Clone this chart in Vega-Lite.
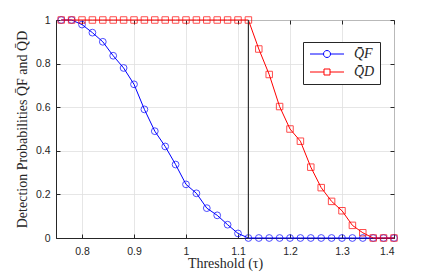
{
  "$schema": "https://vega.github.io/schema/vega-lite/v6.json",
  "width": 338,
  "height": 218,
  "autosize": "none",
  "padding": {"left": 56, "top": 20, "right": 42, "bottom": 35},
  "background": "white",
  "resolve": {"axis": {"x": "independent", "y": "independent"}},
  "config": {
    "view": {"stroke": "#262626", "strokeWidth": 1},
    "axis": {
      "labelFont": "Liberation Sans",
      "labelFontSize": 10.5,
      "labelColor": "#262626",
      "titleFont": "Liberation Serif",
      "titleFontWeight": "normal",
      "titleFontSize": 14,
      "titleColor": "#262626",
      "domainColor": "#262626",
      "tickColor": "#262626",
      "gridColor": "#dfdfdf",
      "gridWidth": 0.8
    }
  },
  "datasets": {
    "curves": [
      {"x": 0.76, "s": "F", "v": 1}, {"x": 0.78, "s": "F", "v": 1}, {"x": 0.80, "s": "F", "v": 0.979},
      {"x": 0.82, "s": "F", "v": 0.942}, {"x": 0.84, "s": "F", "v": 0.90}, {"x": 0.86, "s": "F", "v": 0.836},
      {"x": 0.88, "s": "F", "v": 0.78}, {"x": 0.90, "s": "F", "v": 0.705}, {"x": 0.92, "s": "F", "v": 0.59},
      {"x": 0.94, "s": "F", "v": 0.49}, {"x": 0.96, "s": "F", "v": 0.42}, {"x": 0.98, "s": "F", "v": 0.337},
      {"x": 1.00, "s": "F", "v": 0.246}, {"x": 1.02, "s": "F", "v": 0.205}, {"x": 1.04, "s": "F", "v": 0.137},
      {"x": 1.06, "s": "F", "v": 0.104}, {"x": 1.08, "s": "F", "v": 0.061}, {"x": 1.10, "s": "F", "v": 0.021},
      {"x": 1.12, "s": "F", "v": 0}, {"x": 1.14, "s": "F", "v": 0}, {"x": 1.16, "s": "F", "v": 0},
      {"x": 1.18, "s": "F", "v": 0}, {"x": 1.20, "s": "F", "v": 0}, {"x": 1.22, "s": "F", "v": 0},
      {"x": 1.24, "s": "F", "v": 0}, {"x": 1.26, "s": "F", "v": 0}, {"x": 1.28, "s": "F", "v": 0},
      {"x": 1.30, "s": "F", "v": 0}, {"x": 1.32, "s": "F", "v": 0}, {"x": 1.34, "s": "F", "v": 0},
      {"x": 1.36, "s": "F", "v": 0}, {"x": 1.38, "s": "F", "v": 0}, {"x": 1.40, "s": "F", "v": 0},
      {"x": 0.76, "s": "D", "v": 1}, {"x": 0.78, "s": "D", "v": 1}, {"x": 0.80, "s": "D", "v": 1},
      {"x": 0.82, "s": "D", "v": 1}, {"x": 0.84, "s": "D", "v": 1}, {"x": 0.86, "s": "D", "v": 1},
      {"x": 0.88, "s": "D", "v": 1}, {"x": 0.90, "s": "D", "v": 1}, {"x": 0.92, "s": "D", "v": 1},
      {"x": 0.94, "s": "D", "v": 1}, {"x": 0.96, "s": "D", "v": 1}, {"x": 0.98, "s": "D", "v": 1},
      {"x": 1.00, "s": "D", "v": 1}, {"x": 1.02, "s": "D", "v": 1}, {"x": 1.04, "s": "D", "v": 1},
      {"x": 1.06, "s": "D", "v": 1}, {"x": 1.08, "s": "D", "v": 1}, {"x": 1.10, "s": "D", "v": 1},
      {"x": 1.12, "s": "D", "v": 1}, {"x": 1.14, "s": "D", "v": 0.867}, {"x": 1.16, "s": "D", "v": 0.75},
      {"x": 1.18, "s": "D", "v": 0.603}, {"x": 1.20, "s": "D", "v": 0.50}, {"x": 1.22, "s": "D", "v": 0.444},
      {"x": 1.24, "s": "D", "v": 0.325}, {"x": 1.26, "s": "D", "v": 0.231}, {"x": 1.28, "s": "D", "v": 0.168},
      {"x": 1.30, "s": "D", "v": 0.125}, {"x": 1.32, "s": "D", "v": 0.058}, {"x": 1.34, "s": "D", "v": 0.024},
      {"x": 1.36, "s": "D", "v": 0}, {"x": 1.38, "s": "D", "v": 0}, {"x": 1.40, "s": "D", "v": 0}
    ],
    "thresh": [{"x": 1.12}]
  },
  "layer": [
    {
      "data": {"name": "curves"},
      "transform": [{"filter": "datum.s == 'F'"}],
      "mark": {"type": "line", "strokeWidth": 1, "color": "#0000ff"},
      "encoding": {
        "x": {"field": "x", "type": "quantitative", "scale": {"domain": [0.75, 1.4], "nice": false, "zero": false},
          "axis": {"title": "Threshold (τ)", "values": [0.8, 0.9, 1.0, 1.1, 1.2, 1.3, 1.4], "format": "~g", "grid": true, "tickSize": -4, "labelPadding": 12, "titlePadding": 0}},
        "y": {"field": "v", "type": "quantitative", "scale": {"domain": [0, 1], "nice": false},
          "axis": {"title": "Detection Probabilities Q̄F and Q̄D", "values": [0, 0.2, 0.4, 0.6, 0.8, 1], "format": "~g", "grid": true, "tickSize": -4, "labelPadding": 10, "titlePadding": 6}},
        "order": {"field": "x"}
      }
    },
    {
      "data": {"name": "curves"},
      "transform": [{"filter": "datum.s == 'F'"}],
      "mark": {"type": "point", "shape": "circle", "filled": false, "strokeWidth": 1, "size": 46, "color": "#0000ff"},
      "encoding": {
        "x": {"field": "x", "type": "quantitative",
          "axis": {"orient": "top", "title": null, "labels": false, "grid": false, "domain": false, "values": [0.8, 0.9, 1.0, 1.1, 1.2, 1.3, 1.4], "tickSize": -4}},
        "y": {"field": "v", "type": "quantitative",
          "axis": {"orient": "right", "title": null, "labels": false, "grid": false, "domain": false, "values": [0, 0.2, 0.4, 0.6, 0.8, 1], "tickSize": -4}}
      }
    },
    {
      "data": {"name": "curves"},
      "transform": [{"filter": "datum.s == 'D'"}],
      "mark": {"type": "line", "strokeWidth": 1, "color": "#ff0000"},
      "encoding": {
        "x": {"field": "x", "type": "quantitative", "axis": null},
        "y": {"field": "v", "type": "quantitative", "axis": null},
        "order": {"field": "x"}
      }
    },
    {
      "data": {"name": "curves"},
      "transform": [{"filter": "datum.s == 'D'"}],
      "mark": {"type": "point", "shape": "square", "filled": false, "strokeWidth": 1, "size": 42, "color": "#ff0000"},
      "encoding": {
        "x": {"field": "x", "type": "quantitative", "axis": null},
        "y": {"field": "v", "type": "quantitative", "axis": null}
      }
    },
    {
      "data": {"name": "thresh"},
      "mark": {"type": "rule", "color": "#333333", "strokeWidth": 1.2},
      "encoding": {
        "x": {"field": "x", "type": "quantitative", "axis": null}
      }
    },
    {
      "data": {"name": "curves"},
      "mark": {"type": "point", "filled": false, "opacity": 0, "strokeWidth": 1},
      "encoding": {
        "color": {"field": "s", "type": "nominal", "scale": {"domain": ["F", "D"], "range": ["#0000ff", "#ff0000"]},
          "legend": {
            "orient": "none", "legendX": 247, "legendY": 22,
            "title": null,
            "direction": "vertical",
            "fillColor": "white", "strokeColor": "#262626",
            "padding": 5,
            "symbolSize": 100,
            "symbolOpacity": 1,
            "symbolStrokeWidth": 1,
            "symbolFillColor": "transparent",
            "symbolOffset": 12,
            "labelOffset": 20,
            "labelFont": "Liberation Serif",
            "labelFontStyle": "italic",
            "labelFontSize": 14,
            "labelColor": "#262626",
            "rowPadding": 4,
            "labelExpr": "datum.value == 'F' ? 'Q̄F' : 'Q̄D'"
          }},
        "shape": {"field": "s", "type": "nominal", "scale": {"domain": ["F", "D"], "range": [
          "M-3.4,0H-0.7 M0.7,0H3.4 M0.7,0A0.7,0.7 0 1,1 -0.7,0A0.7,0.7 0 1,1 0.7,0",
          "M-3.4,0H-0.6 M0.6,0H3.4 M-0.6,-0.6H0.6V0.6H-0.6Z"
        ]}}
      }
    }
  ]
}
